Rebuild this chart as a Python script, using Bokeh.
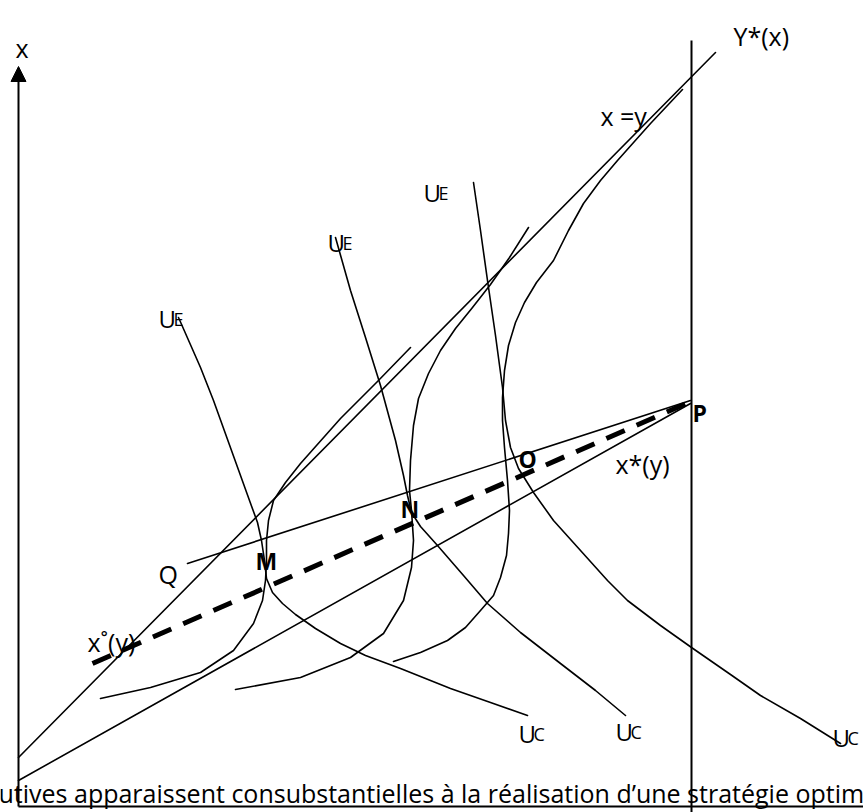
from bokeh.plotting import figure
from bokeh.models import Range1d, Arrow, NormalHead
from bokeh.core.properties import value
from bokeh.embed import file_html
from bokeh.resources import INLINE

W, H = 863, 812
FONT = "Open Sans"

# ---- straight lines (diagram coordinates, y measured downward) ----
diag_x = [18, 715];  diag_y = [757, 52]      # x = y
ray_x = [18, 690];   ray_y = [780, 403]      # lower ray to P
qp_x = [187, 690];   qp_y = [563, 400]       # Q -> P
dash_x = [92, 688];  dash_y = [663, 402]     # x*(y) dashed
ystar_x = [691, 691]; ystar_y = [40, 812]    # Y*(x)
base_x = [18, 863];  base_y = [806, 806]     # horizontal axis
axis_x = [18, 18];   axis_y = [806, 66]      # vertical axis (arrow)

# ---- U_E / U_C curves ----
u1_x = [178, 189, 200, 213, 231, 249, 257, 261, 264, 266, 272, 282, 295, 315, 340, 365, 400, 450, 490, 527]
u1_y = [317, 342, 367, 400, 450, 500, 522, 540, 560, 578, 592, 603, 614, 628, 643, 655, 668, 688, 702, 715]
u2_x = [335, 350, 365, 380, 395, 403, 407, 411, 420, 437, 463, 487, 520, 560, 595, 625]
u2_y = [237, 290, 337, 385, 440, 475, 495, 512, 526, 545, 575, 603, 632, 663, 690, 715]
u3_x = [473, 480, 487, 495, 502, 505, 510, 518, 533, 553, 580, 607, 627, 660, 691, 730, 760, 800, 840]
u3_y = [182, 230, 280, 335, 387, 420, 447, 468, 492, 520, 550, 580, 600, 625, 647, 674, 695, 718, 743]

# ---- S-shaped curves ----
s1_x = [100, 150, 200, 233, 253, 262, 265, 266, 266, 268, 273, 285, 300, 340, 377, 410]
s1_y = [698, 687, 672, 650, 623, 600, 580, 560, 540, 520, 500, 482, 463, 418, 381, 347]
s2_x = [235, 300, 350, 383, 403, 411, 413, 411, 409, 410, 413, 418, 428, 440, 455, 472, 490, 509, 528]
s2_y = [689, 677, 657, 633, 600, 567, 540, 510, 490, 460, 425, 398, 373, 350, 328, 307, 284, 257, 227]
s3_x = [393, 420, 447, 465, 480, 493, 500, 506, 508, 509, 507, 504, 502, 502, 504, 508, 515, 524, 536, 553, 568, 583, 600, 617, 650, 682]
s3_y = [661, 652, 640, 627, 610, 595, 577, 555, 533, 510, 480, 447, 420, 397, 370, 345, 322, 302, 282, 260, 230, 203, 180, 160, 123, 89]

# ---- labels: text, left x, baseline y ----
lab_text = ["x", "Y*(x)", "x =y", "Q", "x˚(y)", "x*(y)"]
lab_x = [15, 733, 600, 158, 87, 615]
lab_y = [47, 35, 115, 573, 641, 463]
pt_text = ["M", "N", "O", "P"]
pt_x = [255, 400, 518, 692]
pt_y = [560, 508, 458, 412]
ue_x = [158, 327, 423]
ue_y = [318, 242, 192]
uc_x = [518, 615, 832]
uc_y = [733, 731, 737]
bottom_text = "utives apparaissent consubstantielles à la réalisation d’une stratégie optim"

p = figure(width=W, height=H, x_range=Range1d(0, W), y_range=Range1d(H, 0),
           output_backend="svg", toolbar_location=None, min_border=0,
           x_axis_type=None, y_axis_type=None, outline_line_color=None)
p.grid.visible = False

thin = dict(line_color="black", line_width=1.6, line_join="round", line_cap="round")
for xs, ys in [(diag_x, diag_y), (ray_x, ray_y), (qp_x, qp_y),
               (u1_x, u1_y), (u2_x, u2_y), (u3_x, u3_y),
               (s1_x, s1_y), (s2_x, s2_y), (s3_x, s3_y)]:
    p.line(xs, ys, **thin)

p.line(ystar_x, ystar_y, line_color="black", line_width=2)
p.line(base_x, base_y, line_color="black", line_width=2.2)
p.line(dash_x, dash_y, line_color="black", line_width=5, line_dash="20 13")
p.add_layout(Arrow(x_start=axis_x[0], y_start=axis_y[0], x_end=axis_x[1], y_end=axis_y[1],
                   line_width=2, line_color="black",
                   end=NormalHead(size=15, fill_color="black", line_color="black")))

txt = dict(text_font=value(FONT), text_color="black", text_baseline="alphabetic", text_align="left")
p.text(lab_x, lab_y, text=lab_text, text_font_size="25px", **txt)
p.text(pt_x, pt_y, text=pt_text, text_font_size="23px", text_font_style="bold", **txt)
p.text(ue_x, ue_y, text=["U"] * 3, text_font_size="24px", **txt)
p.text([x + 15 for x in ue_x], ue_y, text=["E"] * 3, text_font_size="18px", **txt)
p.text(uc_x, uc_y, text=["U"] * 3, text_font_size="24px", **txt)
p.text([x + 15 for x in uc_x], uc_y, text=["C"] * 3, text_font_size="18px", **txt)
p.text([-2], [792], text=[bottom_text], text_font_size="25px", **txt)

open("out.html", "w").write(file_html(p, INLINE))
